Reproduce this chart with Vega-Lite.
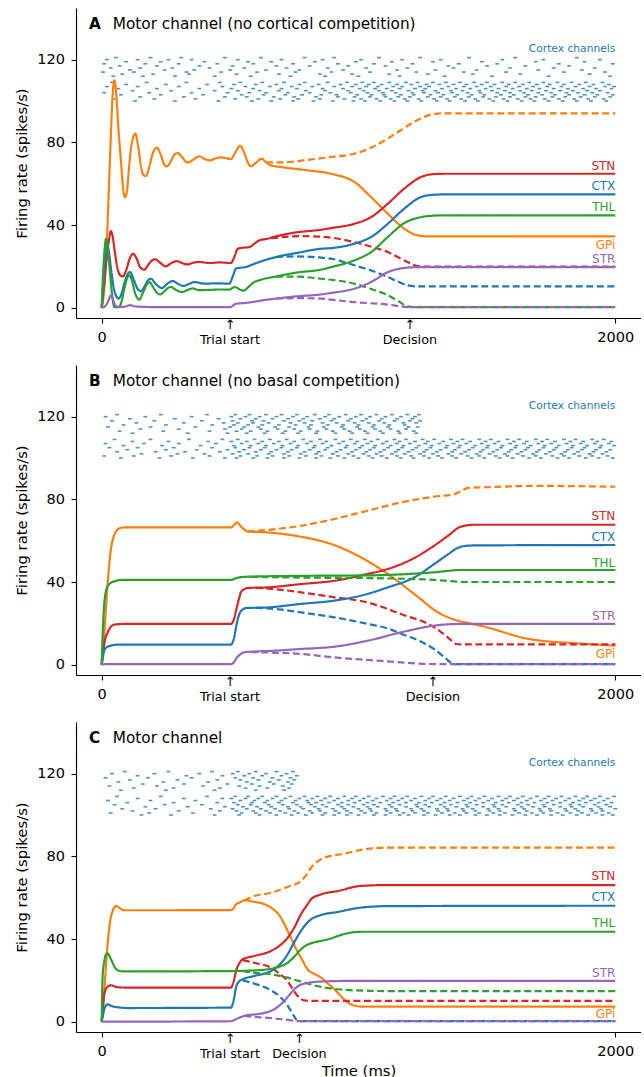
{
"$schema": "https://vega.github.io/schema/vega-lite/v6.json",
"padding": {"left": 14, "top": 8, "right": 0, "bottom": 0},
"config": {
 "font": "DejaVu Sans",
 "view": {"stroke": null},
 "axis": {"grid": false, "domainColor": "#000", "tickColor": "#000", "labelColor": "#000", "titleColor": "#000", "labelFontSize": 14.5, "titleFontSize": 14.8, "titleFontWeight": "normal", "tickSize": 5, "domainWidth": 1.1, "tickWidth": 1.1, "labelFlush": false},
 "axisX": {"labelPadding": 7, "titlePadding": 6},
 "axisY": {"labelPadding": 6.5, "titlePadding": 7.5}
},
"bounds": "flush",
"spacing": 47,
"datasets": {
"lA": [
{"s":"GPi","k":"solid","t":0,"v":0},{"s":"GPi","k":"solid","t":5,"v":3},{"s":"GPi","k":"solid","t":17,"v":23},{"s":"GPi","k":"solid","t":32,"v":71},{"s":"GPi","k":"solid","t":43,"v":103.5},{"s":"GPi","k":"solid","t":49,"v":110},{"s":"GPi","k":"solid","t":55,"v":106},{"s":"GPi","k":"solid","t":65,"v":87},{"s":"GPi","k":"solid","t":75,"v":71},{"s":"GPi","k":"solid","t":84,"v":57},{"s":"GPi","k":"solid","t":91,"v":53.5},{"s":"GPi","k":"solid","t":98,"v":56},{"s":"GPi","k":"solid","t":108,"v":70},{"s":"GPi","k":"solid","t":118,"v":80},{"s":"GPi","k":"solid","t":131,"v":84.2},{"s":"GPi","k":"solid","t":142,"v":78},{"s":"GPi","k":"solid","t":155,"v":67},{"s":"GPi","k":"solid","t":164,"v":64},{"s":"GPi","k":"solid","t":172,"v":63.7},{"s":"GPi","k":"solid","t":185,"v":68},{"s":"GPi","k":"solid","t":200,"v":75},{"s":"GPi","k":"solid","t":215,"v":77.4},{"s":"GPi","k":"solid","t":230,"v":74},{"s":"GPi","k":"solid","t":245,"v":69},{"s":"GPi","k":"solid","t":254,"v":68.4},{"s":"GPi","k":"solid","t":270,"v":71},{"s":"GPi","k":"solid","t":285,"v":74.3},{"s":"GPi","k":"solid","t":297,"v":74.8},{"s":"GPi","k":"solid","t":312,"v":73},{"s":"GPi","k":"solid","t":330,"v":70.5},{"s":"GPi","k":"solid","t":339,"v":70.3},{"s":"GPi","k":"solid","t":355,"v":71.5},{"s":"GPi","k":"solid","t":380,"v":73.2},{"s":"GPi","k":"solid","t":400,"v":72},{"s":"GPi","k":"solid","t":422,"v":71.3},{"s":"GPi","k":"solid","t":445,"v":72.3},{"s":"GPi","k":"solid","t":465,"v":72.7},{"s":"GPi","k":"solid","t":485,"v":72.3},{"s":"GPi","k":"solid","t":503,"v":71.9},{"s":"GPi","k":"solid","t":520,"v":75},{"s":"GPi","k":"solid","t":539,"v":78.4},{"s":"GPi","k":"solid","t":555,"v":75},{"s":"GPi","k":"solid","t":570,"v":70},{"s":"GPi","k":"solid","t":581,"v":68.4},{"s":"GPi","k":"solid","t":600,"v":70},{"s":"GPi","k":"solid","t":623,"v":72.1},{"s":"GPi","k":"solid","t":640,"v":70.3},{"s":"GPi","k":"solid","t":660,"v":68.8},{"s":"GPi","k":"solid","t":700,"v":68},{"s":"GPi","k":"solid","t":800,"v":66.5},{"s":"GPi","k":"solid","t":893,"v":64.8},{"s":"GPi","k":"solid","t":984,"v":60.8},{"s":"GPi","k":"solid","t":1049,"v":53.5},{"s":"GPi","k":"solid","t":1114,"v":45.5},{"s":"GPi","k":"solid","t":1178,"v":38.2},{"s":"GPi","k":"solid","t":1230,"v":35},{"s":"GPi","k":"solid","t":1270,"v":34.5},{"s":"GPi","k":"solid","t":2000,"v":34.5},
{"s":"GPi","k":"dashed","t":640,"v":70.3},{"s":"GPi","k":"dashed","t":700,"v":70.3},{"s":"GPi","k":"dashed","t":800,"v":71.5},{"s":"GPi","k":"dashed","t":893,"v":72.9},{"s":"GPi","k":"dashed","t":984,"v":74.5},{"s":"GPi","k":"dashed","t":1050,"v":77.5},{"s":"GPi","k":"dashed","t":1114,"v":81.8},{"s":"GPi","k":"dashed","t":1160,"v":85.5},{"s":"GPi","k":"dashed","t":1204,"v":89},{"s":"GPi","k":"dashed","t":1250,"v":92},{"s":"GPi","k":"dashed","t":1282,"v":93.4},{"s":"GPi","k":"dashed","t":1330,"v":94},{"s":"GPi","k":"dashed","t":2000,"v":94},
{"s":"STN","k":"solid","t":0,"v":0},{"s":"STN","k":"solid","t":10,"v":12},{"s":"STN","k":"solid","t":20,"v":25},{"s":"STN","k":"solid","t":30,"v":34},{"s":"STN","k":"solid","t":36,"v":37},{"s":"STN","k":"solid","t":42,"v":35},{"s":"STN","k":"solid","t":50,"v":28},{"s":"STN","k":"solid","t":60,"v":20},{"s":"STN","k":"solid","t":70,"v":16},{"s":"STN","k":"solid","t":82,"v":15.1},{"s":"STN","k":"solid","t":95,"v":18},{"s":"STN","k":"solid","t":110,"v":24},{"s":"STN","k":"solid","t":123,"v":26.1},{"s":"STN","k":"solid","t":135,"v":24},{"s":"STN","k":"solid","t":150,"v":19.5},{"s":"STN","k":"solid","t":166,"v":18.4},{"s":"STN","k":"solid","t":180,"v":20.5},{"s":"STN","k":"solid","t":195,"v":22.8},{"s":"STN","k":"solid","t":209,"v":23.4},{"s":"STN","k":"solid","t":225,"v":22},{"s":"STN","k":"solid","t":250,"v":20},{"s":"STN","k":"solid","t":270,"v":21.5},{"s":"STN","k":"solid","t":292,"v":22.5},{"s":"STN","k":"solid","t":315,"v":21.5},{"s":"STN","k":"solid","t":334,"v":20.9},{"s":"STN","k":"solid","t":355,"v":21.7},{"s":"STN","k":"solid","t":380,"v":22.1},{"s":"STN","k":"solid","t":420,"v":21.6},{"s":"STN","k":"solid","t":460,"v":21.9},{"s":"STN","k":"solid","t":503,"v":21.6},{"s":"STN","k":"solid","t":518,"v":25},{"s":"STN","k":"solid","t":530,"v":28.5},{"s":"STN","k":"solid","t":550,"v":29},{"s":"STN","k":"solid","t":575,"v":29.3},{"s":"STN","k":"solid","t":595,"v":31},{"s":"STN","k":"solid","t":614,"v":32.6},{"s":"STN","k":"solid","t":640,"v":33.2},{"s":"STN","k":"solid","t":679,"v":34.5},{"s":"STN","k":"solid","t":750,"v":36.3},{"s":"STN","k":"solid","t":854,"v":37.7},{"s":"STN","k":"solid","t":893,"v":38.5},{"s":"STN","k":"solid","t":984,"v":40.6},{"s":"STN","k":"solid","t":1049,"v":43.8},{"s":"STN","k":"solid","t":1114,"v":50.3},{"s":"STN","k":"solid","t":1178,"v":57.6},{"s":"STN","k":"solid","t":1243,"v":63.2},{"s":"STN","k":"solid","t":1290,"v":64.6},{"s":"STN","k":"solid","t":1340,"v":64.8},{"s":"STN","k":"solid","t":2000,"v":64.8},
{"s":"STN","k":"dashed","t":660,"v":33.6},{"s":"STN","k":"dashed","t":780,"v":34.6},{"s":"STN","k":"dashed","t":860,"v":34.3},{"s":"STN","k":"dashed","t":984,"v":31.7},{"s":"STN","k":"dashed","t":1050,"v":29.5},{"s":"STN","k":"dashed","t":1114,"v":26.9},{"s":"STN","k":"dashed","t":1160,"v":24},{"s":"STN","k":"dashed","t":1191,"v":22.1},{"s":"STN","k":"dashed","t":1230,"v":20.1},{"s":"STN","k":"dashed","t":1260,"v":19.9},{"s":"STN","k":"dashed","t":2000,"v":19.9},
{"s":"CTX","k":"solid","t":0,"v":0},{"s":"CTX","k":"solid","t":8,"v":15},{"s":"CTX","k":"solid","t":15,"v":27},{"s":"CTX","k":"solid","t":21,"v":31.3},{"s":"CTX","k":"solid","t":28,"v":27},{"s":"CTX","k":"solid","t":38,"v":17},{"s":"CTX","k":"solid","t":48,"v":9},{"s":"CTX","k":"solid","t":57,"v":5.5},{"s":"CTX","k":"solid","t":66,"v":4.4},{"s":"CTX","k":"solid","t":75,"v":6},{"s":"CTX","k":"solid","t":90,"v":12.5},{"s":"CTX","k":"solid","t":100,"v":16},{"s":"CTX","k":"solid","t":111,"v":17.2},{"s":"CTX","k":"solid","t":122,"v":14.5},{"s":"CTX","k":"solid","t":138,"v":9.5},{"s":"CTX","k":"solid","t":153,"v":8},{"s":"CTX","k":"solid","t":170,"v":11},{"s":"CTX","k":"solid","t":182,"v":13.5},{"s":"CTX","k":"solid","t":192,"v":14},{"s":"CTX","k":"solid","t":210,"v":11.5},{"s":"CTX","k":"solid","t":235,"v":9.5},{"s":"CTX","k":"solid","t":255,"v":11.5},{"s":"CTX","k":"solid","t":276,"v":12.9},{"s":"CTX","k":"solid","t":298,"v":11.5},{"s":"CTX","k":"solid","t":318,"v":10.5},{"s":"CTX","k":"solid","t":340,"v":11.5},{"s":"CTX","k":"solid","t":361,"v":12.4},{"s":"CTX","k":"solid","t":400,"v":11.6},{"s":"CTX","k":"solid","t":450,"v":11.8},{"s":"CTX","k":"solid","t":497,"v":11.6},{"s":"CTX","k":"solid","t":510,"v":15},{"s":"CTX","k":"solid","t":523,"v":18.9},{"s":"CTX","k":"solid","t":540,"v":19.3},{"s":"CTX","k":"solid","t":562,"v":19.7},{"s":"CTX","k":"solid","t":590,"v":21},{"s":"CTX","k":"solid","t":614,"v":22.1},{"s":"CTX","k":"solid","t":679,"v":24.5},{"s":"CTX","k":"solid","t":760,"v":26.5},{"s":"CTX","k":"solid","t":854,"v":28.5},{"s":"CTX","k":"solid","t":893,"v":28.8},{"s":"CTX","k":"solid","t":984,"v":31},{"s":"CTX","k":"solid","t":1049,"v":34.2},{"s":"CTX","k":"solid","t":1114,"v":40.6},{"s":"CTX","k":"solid","t":1178,"v":47.9},{"s":"CTX","k":"solid","t":1243,"v":53.5},{"s":"CTX","k":"solid","t":1290,"v":54.6},{"s":"CTX","k":"solid","t":1330,"v":54.8},{"s":"CTX","k":"solid","t":2000,"v":54.8},
{"s":"CTX","k":"dashed","t":679,"v":24.5},{"s":"CTX","k":"dashed","t":760,"v":24.8},{"s":"CTX","k":"dashed","t":854,"v":24.2},{"s":"CTX","k":"dashed","t":893,"v":23.7},{"s":"CTX","k":"dashed","t":984,"v":20.5},{"s":"CTX","k":"dashed","t":1050,"v":18},{"s":"CTX","k":"dashed","t":1114,"v":14.8},{"s":"CTX","k":"dashed","t":1160,"v":12.3},{"s":"CTX","k":"dashed","t":1191,"v":10.8},{"s":"CTX","k":"dashed","t":1230,"v":10.3},{"s":"CTX","k":"dashed","t":2000,"v":10.3},
{"s":"THL","k":"solid","t":0,"v":0},{"s":"THL","k":"solid","t":6,"v":18},{"s":"THL","k":"solid","t":12,"v":29},{"s":"THL","k":"solid","t":17,"v":33.4},{"s":"THL","k":"solid","t":22,"v":30},{"s":"THL","k":"solid","t":30,"v":20},{"s":"THL","k":"solid","t":40,"v":7},{"s":"THL","k":"solid","t":49,"v":0.3},{"s":"THL","k":"solid","t":66,"v":0.3},{"s":"THL","k":"solid","t":75,"v":2},{"s":"THL","k":"solid","t":88,"v":9},{"s":"THL","k":"solid","t":98,"v":14},{"s":"THL","k":"solid","t":108,"v":15.6},{"s":"THL","k":"solid","t":118,"v":13},{"s":"THL","k":"solid","t":130,"v":7},{"s":"THL","k":"solid","t":140,"v":4.5},{"s":"THL","k":"solid","t":147,"v":3.9},{"s":"THL","k":"solid","t":160,"v":7},{"s":"THL","k":"solid","t":175,"v":11},{"s":"THL","k":"solid","t":186,"v":12.4},{"s":"THL","k":"solid","t":200,"v":10},{"s":"THL","k":"solid","t":215,"v":7.2},{"s":"THL","k":"solid","t":227,"v":6.4},{"s":"THL","k":"solid","t":245,"v":8},{"s":"THL","k":"solid","t":260,"v":9.7},{"s":"THL","k":"solid","t":270,"v":10},{"s":"THL","k":"solid","t":290,"v":8.5},{"s":"THL","k":"solid","t":313,"v":7.6},{"s":"THL","k":"solid","t":335,"v":8.6},{"s":"THL","k":"solid","t":354,"v":9.3},{"s":"THL","k":"solid","t":380,"v":8.5},{"s":"THL","k":"solid","t":420,"v":8.6},{"s":"THL","k":"solid","t":460,"v":8.8},{"s":"THL","k":"solid","t":497,"v":8.7},{"s":"THL","k":"solid","t":510,"v":9.6},{"s":"THL","k":"solid","t":519,"v":10},{"s":"THL","k":"solid","t":535,"v":9},{"s":"THL","k":"solid","t":552,"v":8.2},{"s":"THL","k":"solid","t":570,"v":9.8},{"s":"THL","k":"solid","t":588,"v":11.9},{"s":"THL","k":"solid","t":620,"v":13.5},{"s":"THL","k":"solid","t":679,"v":15.1},{"s":"THL","k":"solid","t":760,"v":17},{"s":"THL","k":"solid","t":854,"v":18.4},{"s":"THL","k":"solid","t":893,"v":19.6},{"s":"THL","k":"solid","t":984,"v":22.9},{"s":"THL","k":"solid","t":1049,"v":26.9},{"s":"THL","k":"solid","t":1114,"v":34.2},{"s":"THL","k":"solid","t":1178,"v":40.9},{"s":"THL","k":"solid","t":1243,"v":43.8},{"s":"THL","k":"solid","t":1290,"v":44.5},{"s":"THL","k":"solid","t":1330,"v":44.7},{"s":"THL","k":"solid","t":2000,"v":44.7},
{"s":"THL","k":"dashed","t":679,"v":15},{"s":"THL","k":"dashed","t":760,"v":15},{"s":"THL","k":"dashed","t":854,"v":14},{"s":"THL","k":"dashed","t":893,"v":13.5},{"s":"THL","k":"dashed","t":984,"v":11.6},{"s":"THL","k":"dashed","t":1050,"v":9},{"s":"THL","k":"dashed","t":1114,"v":6},{"s":"THL","k":"dashed","t":1160,"v":2.8},{"s":"THL","k":"dashed","t":1191,"v":0.6},{"s":"THL","k":"dashed","t":1217,"v":0.3},{"s":"THL","k":"dashed","t":2000,"v":0.3},
{"s":"STR","k":"solid","t":0,"v":0},{"s":"STR","k":"solid","t":10,"v":0.3},{"s":"STR","k":"solid","t":25,"v":3},{"s":"STR","k":"solid","t":36,"v":6},{"s":"STR","k":"solid","t":45,"v":3.5},{"s":"STR","k":"solid","t":55,"v":0.8},{"s":"STR","k":"solid","t":70,"v":0.3},{"s":"STR","k":"solid","t":90,"v":0.5},{"s":"STR","k":"solid","t":110,"v":1.2},{"s":"STR","k":"solid","t":130,"v":0.6},{"s":"STR","k":"solid","t":200,"v":0.3},{"s":"STR","k":"solid","t":500,"v":0.3},{"s":"STR","k":"solid","t":523,"v":1.9},{"s":"STR","k":"solid","t":560,"v":2.3},{"s":"STR","k":"solid","t":600,"v":3},{"s":"STR","k":"solid","t":640,"v":3.8},{"s":"STR","k":"solid","t":679,"v":4.4},{"s":"STR","k":"solid","t":760,"v":5.5},{"s":"STR","k":"solid","t":854,"v":6.4},{"s":"STR","k":"solid","t":893,"v":7.1},{"s":"STR","k":"solid","t":984,"v":9.2},{"s":"STR","k":"solid","t":1049,"v":12.4},{"s":"STR","k":"solid","t":1114,"v":17.2},{"s":"STR","k":"solid","t":1178,"v":19.2},{"s":"STR","k":"solid","t":1230,"v":19.6},{"s":"STR","k":"solid","t":2000,"v":19.6},
{"s":"STR","k":"dashed","t":679,"v":4.4},{"s":"STR","k":"dashed","t":760,"v":4.6},{"s":"STR","k":"dashed","t":854,"v":4.4},{"s":"STR","k":"dashed","t":893,"v":3.9},{"s":"STR","k":"dashed","t":984,"v":2.7},{"s":"STR","k":"dashed","t":1114,"v":1.5},{"s":"STR","k":"dashed","t":1191,"v":0.3},{"s":"STR","k":"dashed","t":2000,"v":0.3}
],
"lB": [
{"s":"GPi","k":"solid","t":0,"v":0},{"s":"GPi","k":"solid","t":10,"v":15},{"s":"GPi","k":"solid","t":23,"v":39},{"s":"GPi","k":"solid","t":35,"v":55},{"s":"GPi","k":"solid","t":50,"v":63},{"s":"GPi","k":"solid","t":70,"v":66},{"s":"GPi","k":"solid","t":88,"v":66.4},{"s":"GPi","k":"solid","t":503,"v":66.4},{"s":"GPi","k":"solid","t":515,"v":67.5},{"s":"GPi","k":"solid","t":527,"v":68.8},{"s":"GPi","k":"solid","t":545,"v":66.5},{"s":"GPi","k":"solid","t":568,"v":64.5},{"s":"GPi","k":"solid","t":646,"v":64},{"s":"GPi","k":"solid","t":776,"v":61.9},{"s":"GPi","k":"solid","t":893,"v":58.4},{"s":"GPi","k":"solid","t":1010,"v":51.9},{"s":"GPi","k":"solid","t":1114,"v":43.9},{"s":"GPi","k":"solid","t":1217,"v":34.2},{"s":"GPi","k":"solid","t":1321,"v":24.5},{"s":"GPi","k":"solid","t":1373,"v":21.8},{"s":"GPi","k":"solid","t":1440,"v":19.8},{"s":"GPi","k":"solid","t":1503,"v":18},{"s":"GPi","k":"solid","t":1570,"v":15.5},{"s":"GPi","k":"solid","t":1633,"v":13.2},{"s":"GPi","k":"solid","t":1711,"v":11.6},{"s":"GPi","k":"solid","t":1827,"v":10.5},{"s":"GPi","k":"solid","t":2000,"v":9.2},
{"s":"GPi","k":"dashed","t":568,"v":64.5},{"s":"GPi","k":"dashed","t":646,"v":65.2},{"s":"GPi","k":"dashed","t":776,"v":67.2},{"s":"GPi","k":"dashed","t":906,"v":70.5},{"s":"GPi","k":"dashed","t":1036,"v":74.5},{"s":"GPi","k":"dashed","t":1165,"v":78.5},{"s":"GPi","k":"dashed","t":1295,"v":81.3},{"s":"GPi","k":"dashed","t":1373,"v":82.5},{"s":"GPi","k":"dashed","t":1400,"v":84},{"s":"GPi","k":"dashed","t":1425,"v":85.5},{"s":"GPi","k":"dashed","t":1503,"v":85.9},{"s":"GPi","k":"dashed","t":1698,"v":86.5},{"s":"GPi","k":"dashed","t":2000,"v":86.1},
{"s":"STN","k":"solid","t":0,"v":0},{"s":"STN","k":"solid","t":5,"v":5},{"s":"STN","k":"solid","t":10,"v":10},{"s":"STN","k":"solid","t":25,"v":16},{"s":"STN","k":"solid","t":49,"v":19.4},{"s":"STN","k":"solid","t":88,"v":19.7},{"s":"STN","k":"solid","t":503,"v":19.7},{"s":"STN","k":"solid","t":515,"v":22},{"s":"STN","k":"solid","t":523,"v":26.1},{"s":"STN","k":"solid","t":535,"v":32},{"s":"STN","k":"solid","t":542,"v":35},{"s":"STN","k":"solid","t":555,"v":36.5},{"s":"STN","k":"solid","t":568,"v":37.1},{"s":"STN","k":"solid","t":646,"v":37.4},{"s":"STN","k":"solid","t":776,"v":39},{"s":"STN","k":"solid","t":906,"v":40.6},{"s":"STN","k":"solid","t":1036,"v":43.9},{"s":"STN","k":"solid","t":1114,"v":46.3},{"s":"STN","k":"solid","t":1217,"v":51.6},{"s":"STN","k":"solid","t":1295,"v":57.6},{"s":"STN","k":"solid","t":1350,"v":62.5},{"s":"STN","k":"solid","t":1399,"v":66.8},{"s":"STN","k":"solid","t":1451,"v":67.7},{"s":"STN","k":"solid","t":2000,"v":67.7},
{"s":"STN","k":"dashed","t":600,"v":37.2},{"s":"STN","k":"dashed","t":700,"v":36.2},{"s":"STN","k":"dashed","t":776,"v":35},{"s":"STN","k":"dashed","t":906,"v":32.6},{"s":"STN","k":"dashed","t":1036,"v":30.1},{"s":"STN","k":"dashed","t":1165,"v":24.5},{"s":"STN","k":"dashed","t":1295,"v":18.1},{"s":"STN","k":"dashed","t":1350,"v":13},{"s":"STN","k":"dashed","t":1380,"v":10},{"s":"STN","k":"dashed","t":1400,"v":9.8},{"s":"STN","k":"dashed","t":2000,"v":9.8},
{"s":"CTX","k":"solid","t":0,"v":0},{"s":"CTX","k":"solid","t":5,"v":4},{"s":"CTX","k":"solid","t":10,"v":6.8},{"s":"CTX","k":"solid","t":20,"v":8.5},{"s":"CTX","k":"solid","t":36,"v":9.2},{"s":"CTX","k":"solid","t":60,"v":9.7},{"s":"CTX","k":"solid","t":503,"v":9.7},{"s":"CTX","k":"solid","t":516,"v":13.2},{"s":"CTX","k":"solid","t":526,"v":20},{"s":"CTX","k":"solid","t":536,"v":24.5},{"s":"CTX","k":"solid","t":550,"v":26.8},{"s":"CTX","k":"solid","t":562,"v":27.4},{"s":"CTX","k":"solid","t":646,"v":27.7},{"s":"CTX","k":"solid","t":776,"v":29.4},{"s":"CTX","k":"solid","t":906,"v":31},{"s":"CTX","k":"solid","t":1010,"v":33.4},{"s":"CTX","k":"solid","t":1114,"v":37.4},{"s":"CTX","k":"solid","t":1217,"v":42.2},{"s":"CTX","k":"solid","t":1295,"v":48.7},{"s":"CTX","k":"solid","t":1350,"v":53.5},{"s":"CTX","k":"solid","t":1386,"v":56.5},{"s":"CTX","k":"solid","t":1420,"v":57.5},{"s":"CTX","k":"solid","t":1451,"v":57.7},{"s":"CTX","k":"solid","t":2000,"v":57.9},
{"s":"CTX","k":"dashed","t":600,"v":27.5},{"s":"CTX","k":"dashed","t":700,"v":26.6},{"s":"CTX","k":"dashed","t":776,"v":25.3},{"s":"CTX","k":"dashed","t":906,"v":22.9},{"s":"CTX","k":"dashed","t":1036,"v":19.7},{"s":"CTX","k":"dashed","t":1114,"v":17.5},{"s":"CTX","k":"dashed","t":1165,"v":15},{"s":"CTX","k":"dashed","t":1243,"v":11.2},{"s":"CTX","k":"dashed","t":1295,"v":7.5},{"s":"CTX","k":"dashed","t":1340,"v":3},{"s":"CTX","k":"dashed","t":1370,"v":0.3},{"s":"CTX","k":"dashed","t":2000,"v":0.3},
{"s":"THL","k":"solid","t":0,"v":0},{"s":"THL","k":"solid","t":4,"v":15},{"s":"THL","k":"solid","t":10,"v":29.4},{"s":"THL","k":"solid","t":20,"v":37},{"s":"THL","k":"solid","t":30,"v":39},{"s":"THL","k":"solid","t":56,"v":40.6},{"s":"THL","k":"solid","t":80,"v":41},{"s":"THL","k":"solid","t":503,"v":41},{"s":"THL","k":"solid","t":520,"v":41.7},{"s":"THL","k":"solid","t":545,"v":42.4},{"s":"THL","k":"solid","t":581,"v":42.6},{"s":"THL","k":"solid","t":900,"v":43.1},{"s":"THL","k":"solid","t":1036,"v":43.2},{"s":"THL","k":"solid","t":1295,"v":44.7},{"s":"THL","k":"solid","t":1399,"v":45.8},{"s":"THL","k":"solid","t":2000,"v":45.8},
{"s":"THL","k":"dashed","t":581,"v":42.5},{"s":"THL","k":"dashed","t":900,"v":42},{"s":"THL","k":"dashed","t":1036,"v":41.9},{"s":"THL","k":"dashed","t":1295,"v":41},{"s":"THL","k":"dashed","t":1373,"v":40.3},{"s":"THL","k":"dashed","t":1420,"v":40},{"s":"THL","k":"dashed","t":2000,"v":40},
{"s":"STR","k":"solid","t":0,"v":0},{"s":"STR","k":"solid","t":20,"v":0.3},{"s":"STR","k":"solid","t":503,"v":0.3},{"s":"STR","k":"solid","t":515,"v":1.2},{"s":"STR","k":"solid","t":523,"v":2.8},{"s":"STR","k":"solid","t":540,"v":5},{"s":"STR","k":"solid","t":555,"v":6},{"s":"STR","k":"solid","t":581,"v":6.3},{"s":"STR","k":"solid","t":646,"v":6.6},{"s":"STR","k":"solid","t":776,"v":7.6},{"s":"STR","k":"solid","t":906,"v":8.7},{"s":"STR","k":"solid","t":1036,"v":11.6},{"s":"STR","k":"solid","t":1165,"v":15.6},{"s":"STR","k":"solid","t":1295,"v":18.9},{"s":"STR","k":"solid","t":1399,"v":19.7},{"s":"STR","k":"solid","t":2000,"v":19.7},
{"s":"STR","k":"dashed","t":581,"v":6.1},{"s":"STR","k":"dashed","t":646,"v":5.9},{"s":"STR","k":"dashed","t":776,"v":5.2},{"s":"STR","k":"dashed","t":906,"v":3.5},{"s":"STR","k":"dashed","t":1036,"v":2.3},{"s":"STR","k":"dashed","t":1165,"v":1.1},{"s":"STR","k":"dashed","t":1295,"v":0.3},{"s":"STR","k":"dashed","t":2000,"v":0.3}
],
"lC": [
{"s":"GPi","k":"solid","t":0,"v":0},{"s":"GPi","k":"solid","t":10,"v":15},{"s":"GPi","k":"solid","t":23,"v":37.4},{"s":"GPi","k":"solid","t":35,"v":50},{"s":"GPi","k":"solid","t":43,"v":53.6},{"s":"GPi","k":"solid","t":56,"v":56},{"s":"GPi","k":"solid","t":70,"v":55},{"s":"GPi","k":"solid","t":88,"v":53.9},{"s":"GPi","k":"solid","t":503,"v":54},{"s":"GPi","k":"solid","t":515,"v":55},{"s":"GPi","k":"solid","t":523,"v":56.8},{"s":"GPi","k":"solid","t":540,"v":57.8},{"s":"GPi","k":"solid","t":555,"v":58.7},{"s":"GPi","k":"solid","t":594,"v":58},{"s":"GPi","k":"solid","t":630,"v":57},{"s":"GPi","k":"solid","t":659,"v":55.2},{"s":"GPi","k":"solid","t":698,"v":50.3},{"s":"GPi","k":"solid","t":720,"v":45},{"s":"GPi","k":"solid","t":737,"v":40.6},{"s":"GPi","k":"solid","t":760,"v":34.5},{"s":"GPi","k":"solid","t":776,"v":31},{"s":"GPi","k":"solid","t":802,"v":25.3},{"s":"GPi","k":"solid","t":830,"v":23},{"s":"GPi","k":"solid","t":854,"v":21.3},{"s":"GPi","k":"solid","t":880,"v":18.5},{"s":"GPi","k":"solid","t":906,"v":15.7},{"s":"GPi","k":"solid","t":932,"v":12.3},{"s":"GPi","k":"solid","t":958,"v":9.2},{"s":"GPi","k":"solid","t":985,"v":7.8},{"s":"GPi","k":"solid","t":1010,"v":7.3},{"s":"GPi","k":"solid","t":2000,"v":7.3},
{"s":"GPi","k":"dashed","t":555,"v":58.7},{"s":"GPi","k":"dashed","t":594,"v":60.8},{"s":"GPi","k":"dashed","t":659,"v":62.4},{"s":"GPi","k":"dashed","t":724,"v":65.2},{"s":"GPi","k":"dashed","t":776,"v":68.1},{"s":"GPi","k":"dashed","t":800,"v":71.5},{"s":"GPi","k":"dashed","t":815,"v":74.5},{"s":"GPi","k":"dashed","t":835,"v":77},{"s":"GPi","k":"dashed","t":854,"v":78.6},{"s":"GPi","k":"dashed","t":890,"v":80.2},{"s":"GPi","k":"dashed","t":932,"v":81},{"s":"GPi","k":"dashed","t":1023,"v":83.4},{"s":"GPi","k":"dashed","t":1114,"v":84.2},{"s":"GPi","k":"dashed","t":2000,"v":84.2},
{"s":"STN","k":"solid","t":0,"v":0},{"s":"STN","k":"solid","t":5,"v":7},{"s":"STN","k":"solid","t":10,"v":13.3},{"s":"STN","k":"solid","t":20,"v":16.5},{"s":"STN","k":"solid","t":36,"v":17.6},{"s":"STN","k":"solid","t":60,"v":16.7},{"s":"STN","k":"solid","t":95,"v":16.5},{"s":"STN","k":"solid","t":503,"v":16.5},{"s":"STN","k":"solid","t":515,"v":20},{"s":"STN","k":"solid","t":523,"v":24.5},{"s":"STN","k":"solid","t":535,"v":28},{"s":"STN","k":"solid","t":549,"v":30.2},{"s":"STN","k":"solid","t":594,"v":31.8},{"s":"STN","k":"solid","t":659,"v":34.2},{"s":"STN","k":"solid","t":700,"v":37.5},{"s":"STN","k":"solid","t":724,"v":40.6},{"s":"STN","k":"solid","t":750,"v":45.5},{"s":"STN","k":"solid","t":776,"v":52},{"s":"STN","k":"solid","t":800,"v":56.5},{"s":"STN","k":"solid","t":815,"v":59.2},{"s":"STN","k":"solid","t":854,"v":61.6},{"s":"STN","k":"solid","t":919,"v":63.2},{"s":"STN","k":"solid","t":1010,"v":65.7},{"s":"STN","k":"solid","t":1114,"v":66.1},{"s":"STN","k":"solid","t":2000,"v":66.1},
{"s":"STN","k":"dashed","t":549,"v":29.8},{"s":"STN","k":"dashed","t":594,"v":28.5},{"s":"STN","k":"dashed","t":659,"v":26.1},{"s":"STN","k":"dashed","t":700,"v":22.5},{"s":"STN","k":"dashed","t":724,"v":19.7},{"s":"STN","k":"dashed","t":745,"v":15.5},{"s":"STN","k":"dashed","t":763,"v":12.4},{"s":"STN","k":"dashed","t":789,"v":10.3},{"s":"STN","k":"dashed","t":810,"v":10.1},{"s":"STN","k":"dashed","t":2000,"v":10.1},
{"s":"CTX","k":"solid","t":0,"v":0},{"s":"CTX","k":"solid","t":5,"v":3},{"s":"CTX","k":"solid","t":10,"v":6},{"s":"CTX","k":"solid","t":23,"v":8.4},{"s":"CTX","k":"solid","t":40,"v":7.5},{"s":"CTX","k":"solid","t":75,"v":6.8},{"s":"CTX","k":"solid","t":100,"v":6.6},{"s":"CTX","k":"solid","t":503,"v":6.8},{"s":"CTX","k":"solid","t":515,"v":11},{"s":"CTX","k":"solid","t":523,"v":16.5},{"s":"CTX","k":"solid","t":535,"v":19.5},{"s":"CTX","k":"solid","t":549,"v":20.5},{"s":"CTX","k":"solid","t":594,"v":22.1},{"s":"CTX","k":"solid","t":659,"v":24.5},{"s":"CTX","k":"solid","t":700,"v":28.5},{"s":"CTX","k":"solid","t":724,"v":32.6},{"s":"CTX","k":"solid","t":750,"v":38.5},{"s":"CTX","k":"solid","t":776,"v":43.9},{"s":"CTX","k":"solid","t":800,"v":47.8},{"s":"CTX","k":"solid","t":815,"v":49.5},{"s":"CTX","k":"solid","t":854,"v":51.6},{"s":"CTX","k":"solid","t":919,"v":53.1},{"s":"CTX","k":"solid","t":1010,"v":55.2},{"s":"CTX","k":"solid","t":1114,"v":55.9},{"s":"CTX","k":"solid","t":2000,"v":56.1},
{"s":"CTX","k":"dashed","t":549,"v":20},{"s":"CTX","k":"dashed","t":594,"v":18.4},{"s":"CTX","k":"dashed","t":659,"v":15.2},{"s":"CTX","k":"dashed","t":698,"v":11.6},{"s":"CTX","k":"dashed","t":720,"v":8.5},{"s":"CTX","k":"dashed","t":737,"v":5.2},{"s":"CTX","k":"dashed","t":755,"v":1.5},{"s":"CTX","k":"dashed","t":763,"v":0.3},{"s":"CTX","k":"dashed","t":2000,"v":0.3},
{"s":"THL","k":"solid","t":0,"v":0},{"s":"THL","k":"solid","t":4,"v":22.9},{"s":"THL","k":"solid","t":10,"v":29},{"s":"THL","k":"solid","t":17,"v":32.6},{"s":"THL","k":"solid","t":23,"v":33},{"s":"THL","k":"solid","t":36,"v":30.2},{"s":"THL","k":"solid","t":50,"v":26.5},{"s":"THL","k":"solid","t":62,"v":24.9},{"s":"THL","k":"solid","t":88,"v":24.3},{"s":"THL","k":"solid","t":503,"v":24.5},{"s":"THL","k":"solid","t":594,"v":24.8},{"s":"THL","k":"solid","t":659,"v":25.6},{"s":"THL","k":"solid","t":700,"v":27},{"s":"THL","k":"solid","t":724,"v":28.5},{"s":"THL","k":"solid","t":750,"v":31.5},{"s":"THL","k":"solid","t":776,"v":35},{"s":"THL","k":"solid","t":800,"v":37.2},{"s":"THL","k":"solid","t":815,"v":37.9},{"s":"THL","k":"solid","t":880,"v":39.8},{"s":"THL","k":"solid","t":958,"v":42.8},{"s":"THL","k":"solid","t":1010,"v":43.5},{"s":"THL","k":"solid","t":2000,"v":43.5},
{"s":"THL","k":"dashed","t":549,"v":24.4},{"s":"THL","k":"dashed","t":594,"v":23.7},{"s":"THL","k":"dashed","t":659,"v":22.9},{"s":"THL","k":"dashed","t":724,"v":21.3},{"s":"THL","k":"dashed","t":789,"v":18.9},{"s":"THL","k":"dashed","t":854,"v":16.8},{"s":"THL","k":"dashed","t":919,"v":15.7},{"s":"THL","k":"dashed","t":1049,"v":14.9},{"s":"THL","k":"dashed","t":1100,"v":14.8},{"s":"THL","k":"dashed","t":2000,"v":14.8},
{"s":"STR","k":"solid","t":0,"v":0},{"s":"STR","k":"solid","t":503,"v":0.2},{"s":"STR","k":"solid","t":523,"v":1.2},{"s":"STR","k":"solid","t":555,"v":2.8},{"s":"STR","k":"solid","t":620,"v":3.9},{"s":"STR","k":"solid","t":650,"v":4.8},{"s":"STR","k":"solid","t":672,"v":6},{"s":"STR","k":"solid","t":692,"v":7.8},{"s":"STR","k":"solid","t":711,"v":10},{"s":"STR","k":"solid","t":730,"v":12.8},{"s":"STR","k":"solid","t":750,"v":15.7},{"s":"STR","k":"solid","t":770,"v":17.6},{"s":"STR","k":"solid","t":789,"v":18.4},{"s":"STR","k":"solid","t":854,"v":19.4},{"s":"STR","k":"solid","t":950,"v":19.7},{"s":"STR","k":"solid","t":2000,"v":19.7},
{"s":"STR","k":"dashed","t":555,"v":2.8},{"s":"STR","k":"dashed","t":594,"v":2.3},{"s":"STR","k":"dashed","t":659,"v":1.7},{"s":"STR","k":"dashed","t":724,"v":0.9},{"s":"STR","k":"dashed","t":763,"v":0.3},{"s":"STR","k":"dashed","t":2000,"v":0.3}
],
"sA": [
{"t":55,"v":121},{"t":190,"v":121},{"t":310,"v":121},{"t":480,"v":121},{"t":620,"v":121},{"t":790,"v":121},{"t":905,"v":121},{"t":1080,"v":121},{"t":1240,"v":121},{"t":1430,"v":121},{"t":1610,"v":121},{"t":1850,"v":121},
{"t":20,"v":120},{"t":140,"v":120},{"t":260,"v":120},{"t":350,"v":120},{"t":530,"v":120},{"t":700,"v":120},{"t":860,"v":120},{"t":1010,"v":120},{"t":1170,"v":120},{"t":1320,"v":120},{"t":1560,"v":120},{"t":1720,"v":120},{"t":1940,"v":120},
{"t":95,"v":119},{"t":230,"v":119},{"t":400,"v":119},{"t":570,"v":119},{"t":660,"v":119},{"t":830,"v":119},{"t":990,"v":119},{"t":1130,"v":119},{"t":1290,"v":119},{"t":1480,"v":119},{"t":1690,"v":119},{"t":1880,"v":119},
{"t":10,"v":118},{"t":170,"v":118},{"t":300,"v":118},{"t":450,"v":118},{"t":590,"v":118},{"t":745,"v":118},{"t":920,"v":118},{"t":1060,"v":118},{"t":1210,"v":118},{"t":1390,"v":118},{"t":1540,"v":118},{"t":1780,"v":118},{"t":1990,"v":118},
{"t":70,"v":117},{"t":215,"v":117},{"t":380,"v":117},{"t":510,"v":117},{"t":680,"v":117},{"t":810,"v":117},{"t":960,"v":117},{"t":1105,"v":117},{"t":1350,"v":117},{"t":1500,"v":117},{"t":1650,"v":117},{"t":1820,"v":117},
{"t":35,"v":116},{"t":150,"v":116},{"t":275,"v":116},{"t":420,"v":116},{"t":555,"v":116},{"t":720,"v":116},{"t":880,"v":116},{"t":1030,"v":116},{"t":1190,"v":116},{"t":1370,"v":116},{"t":1590,"v":116},{"t":1760,"v":116},{"t":1920,"v":116},
{"t":110,"v":115},{"t":245,"v":115},{"t":360,"v":115},{"t":500,"v":115},{"t":640,"v":115},{"t":770,"v":115},{"t":940,"v":115},{"t":1150,"v":115},{"t":1300,"v":115},{"t":1460,"v":115},{"t":1700,"v":115},{"t":1870,"v":115},
{"t":5,"v":114},{"t":125,"v":114},{"t":330,"v":114},{"t":465,"v":114},{"t":605,"v":114},{"t":755,"v":114},{"t":895,"v":114},{"t":1045,"v":114},{"t":1225,"v":114},{"t":1410,"v":114},{"t":1575,"v":114},{"t":1800,"v":114},{"t":1960,"v":114},
{"t":80,"v":113},{"t":200,"v":113},{"t":340,"v":113},{"t":525,"v":113},{"t":690,"v":113},{"t":850,"v":113},{"t":975,"v":113},{"t":1120,"v":113},{"t":1270,"v":113},{"t":1445,"v":113},{"t":1630,"v":113},{"t":1900,"v":113},
{"t":45,"v":112},{"t":160,"v":112},{"t":285,"v":112},{"t":440,"v":112},{"t":580,"v":112},{"t":735,"v":112},{"t":870,"v":112},{"t":1000,"v":112},{"t":1160,"v":112},{"t":1335,"v":112},{"t":1520,"v":112},{"t":1740,"v":112},{"t":1980,"v":112},
{"t":40,"v":109},{"t":175,"v":109},{"t":330,"v":109},{"t":460,"v":109},{"t":540,"v":109},{"t":625,"v":109},{"t":710,"v":109},{"t":790,"v":109},{"t":880,"v":109},{"t":955,"v":109},{"t":1015,"v":109},{"t":1060,"v":109},{"t":1120,"v":109},{"t":1185,"v":109},{"t":1230,"v":109},{"t":1290,"v":109},{"t":1340,"v":109},{"t":1395,"v":109},{"t":1450,"v":109},{"t":1500,"v":109},{"t":1560,"v":109},{"t":1610,"v":109},{"t":1665,"v":109},{"t":1720,"v":109},{"t":1775,"v":109},{"t":1830,"v":109},{"t":1885,"v":109},{"t":1950,"v":109},
{"t":95,"v":108},{"t":250,"v":108},{"t":410,"v":108},{"t":515,"v":108},{"t":600,"v":108},{"t":680,"v":108},{"t":770,"v":108},{"t":845,"v":108},{"t":930,"v":108},{"t":990,"v":108},{"t":1040,"v":108},{"t":1090,"v":108},{"t":1150,"v":108},{"t":1205,"v":108},{"t":1265,"v":108},{"t":1315,"v":108},{"t":1370,"v":108},{"t":1420,"v":108},{"t":1480,"v":108},{"t":1530,"v":108},{"t":1585,"v":108},{"t":1640,"v":108},{"t":1695,"v":108},{"t":1745,"v":108},{"t":1800,"v":108},{"t":1860,"v":108},{"t":1915,"v":108},{"t":1975,"v":108},
{"t":20,"v":107},{"t":140,"v":107},{"t":300,"v":107},{"t":470,"v":107},{"t":560,"v":107},{"t":655,"v":107},{"t":740,"v":107},{"t":820,"v":107},{"t":905,"v":107},{"t":975,"v":107},{"t":1030,"v":107},{"t":1075,"v":107},{"t":1135,"v":107},{"t":1170,"v":107},{"t":1240,"v":107},{"t":1275,"v":107},{"t":1350,"v":107},{"t":1410,"v":107},{"t":1460,"v":107},{"t":1515,"v":107},{"t":1575,"v":107},{"t":1625,"v":107},{"t":1680,"v":107},{"t":1735,"v":107},{"t":1790,"v":107},{"t":1845,"v":107},{"t":1900,"v":107},{"t":1960,"v":107},{"t":1995,"v":107},
{"t":65,"v":106},{"t":215,"v":106},{"t":380,"v":106},{"t":505,"v":106},{"t":590,"v":106},{"t":700,"v":106},{"t":760,"v":106},{"t":860,"v":106},{"t":940,"v":106},{"t":1005,"v":106},{"t":1065,"v":106},{"t":1110,"v":106},{"t":1160,"v":106},{"t":1220,"v":106},{"t":1260,"v":106},{"t":1325,"v":106},{"t":1380,"v":106},{"t":1435,"v":106},{"t":1495,"v":106},{"t":1545,"v":106},{"t":1600,"v":106},{"t":1655,"v":106},{"t":1705,"v":106},{"t":1760,"v":106},{"t":1815,"v":106},{"t":1875,"v":106},{"t":1925,"v":106},{"t":1985,"v":106},
{"t":120,"v":105},{"t":270,"v":105},{"t":440,"v":105},{"t":530,"v":105},{"t":615,"v":105},{"t":690,"v":105},{"t":795,"v":105},{"t":870,"v":105},{"t":960,"v":105},{"t":1020,"v":105},{"t":1080,"v":105},{"t":1130,"v":105},{"t":1195,"v":105},{"t":1250,"v":105},{"t":1300,"v":105},{"t":1360,"v":105},{"t":1405,"v":105},{"t":1470,"v":105},{"t":1520,"v":105},{"t":1570,"v":105},{"t":1630,"v":105},{"t":1675,"v":105},{"t":1730,"v":105},{"t":1785,"v":105},{"t":1835,"v":105},{"t":1890,"v":105},{"t":1940,"v":105},
{"t":10,"v":104},{"t":185,"v":104},{"t":350,"v":104},{"t":490,"v":104},{"t":575,"v":104},{"t":640,"v":104},{"t":725,"v":104},{"t":810,"v":104},{"t":890,"v":104},{"t":970,"v":104},{"t":1035,"v":104},{"t":1095,"v":104},{"t":1145,"v":104},{"t":1210,"v":104},{"t":1255,"v":104},{"t":1310,"v":104},{"t":1365,"v":104},{"t":1425,"v":104},{"t":1475,"v":104},{"t":1540,"v":104},{"t":1590,"v":104},{"t":1645,"v":104},{"t":1700,"v":104},{"t":1750,"v":104},{"t":1810,"v":104},{"t":1855,"v":104},{"t":1910,"v":104},{"t":1970,"v":104},
{"t":75,"v":103},{"t":230,"v":103},{"t":395,"v":103},{"t":545,"v":103},{"t":630,"v":103},{"t":715,"v":103},{"t":780,"v":103},{"t":855,"v":103},{"t":915,"v":103},{"t":995,"v":103},{"t":1050,"v":103},{"t":1100,"v":103},{"t":1165,"v":103},{"t":1215,"v":103},{"t":1280,"v":103},{"t":1330,"v":103},{"t":1385,"v":103},{"t":1440,"v":103},{"t":1490,"v":103},{"t":1555,"v":103},{"t":1605,"v":103},{"t":1660,"v":103},{"t":1715,"v":103},{"t":1765,"v":103},{"t":1820,"v":103},{"t":1880,"v":103},{"t":1930,"v":103},{"t":1990,"v":103},
{"t":150,"v":102},{"t":320,"v":102},{"t":480,"v":102},{"t":565,"v":102},{"t":670,"v":102},{"t":750,"v":102},{"t":835,"v":102},{"t":920,"v":102},{"t":985,"v":102},{"t":1045,"v":102},{"t":1105,"v":102},{"t":1155,"v":102},{"t":1200,"v":102},{"t":1270,"v":102},{"t":1320,"v":102},{"t":1375,"v":102},{"t":1430,"v":102},{"t":1485,"v":102},{"t":1535,"v":102},{"t":1590,"v":102},{"t":1650,"v":102},{"t":1690,"v":102},{"t":1755,"v":102},{"t":1805,"v":102},{"t":1865,"v":102},{"t":1920,"v":102},{"t":1980,"v":102},
{"t":50,"v":101},{"t":205,"v":101},{"t":365,"v":101},{"t":520,"v":101},{"t":610,"v":101},{"t":695,"v":101},{"t":765,"v":101},{"t":850,"v":101},{"t":945,"v":101},{"t":1010,"v":101},{"t":1070,"v":101},{"t":1125,"v":101},{"t":1180,"v":101},{"t":1235,"v":101},{"t":1295,"v":101},{"t":1345,"v":101},{"t":1400,"v":101},{"t":1455,"v":101},{"t":1510,"v":101},{"t":1565,"v":101},{"t":1620,"v":101},{"t":1670,"v":101},{"t":1725,"v":101},{"t":1780,"v":101},{"t":1840,"v":101},{"t":1895,"v":101},{"t":1955,"v":101},
{"t":130,"v":100},{"t":285,"v":100},{"t":455,"v":100},{"t":585,"v":100},{"t":660,"v":100},{"t":745,"v":100},{"t":825,"v":100},{"t":900,"v":100},{"t":980,"v":100},{"t":1025,"v":100},{"t":1085,"v":100},{"t":1140,"v":100},{"t":1190,"v":100},{"t":1245,"v":100},{"t":1305,"v":100},{"t":1355,"v":100},{"t":1415,"v":100},{"t":1465,"v":100},{"t":1525,"v":100},{"t":1580,"v":100},{"t":1635,"v":100},{"t":1685,"v":100},{"t":1740,"v":100},{"t":1795,"v":100},{"t":1850,"v":100},{"t":1905,"v":100},{"t":1965,"v":100}
],
"sB": [
{"t":60,"v":121},{"t":230,"v":121},{"t":410,"v":121},{"t":520,"v":121},{"t":575,"v":121},{"t":640,"v":121},{"t":700,"v":121},{"t":760,"v":121},{"t":830,"v":121},{"t":885,"v":121},{"t":950,"v":121},{"t":1010,"v":121},{"t":1070,"v":121},{"t":1130,"v":121},{"t":1190,"v":121},{"t":1235,"v":121},
{"t":15,"v":120},{"t":170,"v":120},{"t":350,"v":120},{"t":505,"v":120},{"t":560,"v":120},{"t":615,"v":120},{"t":680,"v":120},{"t":745,"v":120},{"t":800,"v":120},{"t":870,"v":120},{"t":925,"v":120},{"t":990,"v":120},{"t":1045,"v":120},{"t":1105,"v":120},{"t":1165,"v":120},{"t":1220,"v":120},
{"t":110,"v":119},{"t":285,"v":119},{"t":455,"v":119},{"t":540,"v":119},{"t":600,"v":119},{"t":665,"v":119},{"t":725,"v":119},{"t":785,"v":119},{"t":850,"v":119},{"t":905,"v":119},{"t":970,"v":119},{"t":1030,"v":119},{"t":1090,"v":119},{"t":1150,"v":119},{"t":1210,"v":119},
{"t":40,"v":118},{"t":205,"v":118},{"t":390,"v":118},{"t":510,"v":118},{"t":585,"v":118},{"t":630,"v":118},{"t":710,"v":118},{"t":770,"v":118},{"t":820,"v":118},{"t":895,"v":118},{"t":960,"v":118},{"t":1015,"v":118},{"t":1080,"v":118},{"t":1140,"v":118},{"t":1200,"v":118},{"t":1240,"v":118},
{"t":135,"v":117},{"t":320,"v":117},{"t":475,"v":117},{"t":530,"v":117},{"t":590,"v":117},{"t":650,"v":117},{"t":735,"v":117},{"t":790,"v":117},{"t":860,"v":117},{"t":915,"v":117},{"t":985,"v":117},{"t":1040,"v":117},{"t":1100,"v":117},{"t":1175,"v":117},{"t":1225,"v":117},
{"t":85,"v":116},{"t":250,"v":116},{"t":430,"v":116},{"t":515,"v":116},{"t":570,"v":116},{"t":625,"v":116},{"t":690,"v":116},{"t":755,"v":116},{"t":815,"v":116},{"t":880,"v":116},{"t":940,"v":116},{"t":1000,"v":116},{"t":1060,"v":116},{"t":1120,"v":116},{"t":1180,"v":116},
{"t":25,"v":115},{"t":190,"v":115},{"t":365,"v":115},{"t":500,"v":115},{"t":555,"v":115},{"t":610,"v":115},{"t":675,"v":115},{"t":730,"v":115},{"t":805,"v":115},{"t":865,"v":115},{"t":935,"v":115},{"t":995,"v":115},{"t":1055,"v":115},{"t":1115,"v":115},{"t":1195,"v":115},{"t":1230,"v":115},
{"t":150,"v":114},{"t":300,"v":114},{"t":480,"v":114},{"t":545,"v":114},{"t":620,"v":114},{"t":685,"v":114},{"t":750,"v":114},{"t":810,"v":114},{"t":875,"v":114},{"t":945,"v":114},{"t":1005,"v":114},{"t":1065,"v":114},{"t":1125,"v":114},{"t":1185,"v":114},
{"t":70,"v":113},{"t":240,"v":113},{"t":420,"v":113},{"t":525,"v":113},{"t":580,"v":113},{"t":645,"v":113},{"t":715,"v":113},{"t":775,"v":113},{"t":840,"v":113},{"t":900,"v":113},{"t":965,"v":113},{"t":1025,"v":113},{"t":1085,"v":113},{"t":1155,"v":113},{"t":1215,"v":113},
{"t":120,"v":112},{"t":335,"v":112},{"t":490,"v":112},{"t":565,"v":112},{"t":635,"v":112},{"t":705,"v":112},{"t":765,"v":112},{"t":835,"v":112},{"t":910,"v":112},{"t":975,"v":112},{"t":1035,"v":112},{"t":1095,"v":112},{"t":1160,"v":112},{"t":1225,"v":112},
{"t":50,"v":109},{"t":190,"v":109},{"t":340,"v":109},{"t":470,"v":109},{"t":530,"v":109},{"t":595,"v":109},{"t":655,"v":109},{"t":720,"v":109},{"t":785,"v":109},{"t":850,"v":109},{"t":910,"v":109},{"t":970,"v":109},{"t":1025,"v":109},{"t":1075,"v":109},{"t":1140,"v":109},{"t":1185,"v":109},{"t":1250,"v":109},{"t":1295,"v":109},{"t":1360,"v":109},{"t":1405,"v":109},{"t":1470,"v":109},{"t":1515,"v":109},{"t":1580,"v":109},{"t":1625,"v":109},{"t":1690,"v":109},{"t":1735,"v":109},{"t":1800,"v":109},{"t":1845,"v":109},{"t":1910,"v":109},{"t":1955,"v":109},
{"t":120,"v":108},{"t":260,"v":108},{"t":415,"v":108},{"t":505,"v":108},{"t":565,"v":108},{"t":625,"v":108},{"t":690,"v":108},{"t":750,"v":108},{"t":815,"v":108},{"t":875,"v":108},{"t":940,"v":108},{"t":995,"v":108},{"t":1050,"v":108},{"t":1110,"v":108},{"t":1160,"v":108},{"t":1220,"v":108},{"t":1270,"v":108},{"t":1330,"v":108},{"t":1385,"v":108},{"t":1435,"v":108},{"t":1495,"v":108},{"t":1545,"v":108},{"t":1605,"v":108},{"t":1655,"v":108},{"t":1715,"v":108},{"t":1765,"v":108},{"t":1825,"v":108},{"t":1875,"v":108},{"t":1930,"v":108},{"t":1985,"v":108},
{"t":15,"v":107},{"t":165,"v":107},{"t":300,"v":107},{"t":445,"v":107},{"t":545,"v":107},{"t":610,"v":107},{"t":670,"v":107},{"t":735,"v":107},{"t":800,"v":107},{"t":860,"v":107},{"t":925,"v":107},{"t":985,"v":107},{"t":1035,"v":107},{"t":1095,"v":107},{"t":1150,"v":107},{"t":1200,"v":107},{"t":1260,"v":107},{"t":1315,"v":107},{"t":1370,"v":107},{"t":1420,"v":107},{"t":1480,"v":107},{"t":1530,"v":107},{"t":1590,"v":107},{"t":1645,"v":107},{"t":1700,"v":107},{"t":1750,"v":107},{"t":1810,"v":107},{"t":1865,"v":107},{"t":1920,"v":107},{"t":1975,"v":107},
{"t":85,"v":106},{"t":235,"v":106},{"t":385,"v":106},{"t":515,"v":106},{"t":580,"v":106},{"t":640,"v":106},{"t":705,"v":106},{"t":765,"v":106},{"t":830,"v":106},{"t":895,"v":106},{"t":955,"v":106},{"t":1015,"v":106},{"t":1065,"v":106},{"t":1125,"v":106},{"t":1175,"v":106},{"t":1235,"v":106},{"t":1285,"v":106},{"t":1345,"v":106},{"t":1395,"v":106},{"t":1455,"v":106},{"t":1505,"v":106},{"t":1560,"v":106},{"t":1615,"v":106},{"t":1670,"v":106},{"t":1725,"v":106},{"t":1780,"v":106},{"t":1835,"v":106},{"t":1890,"v":106},{"t":1945,"v":106},{"t":1995,"v":106},
{"t":30,"v":105},{"t":140,"v":105},{"t":280,"v":105},{"t":430,"v":105},{"t":520,"v":105},{"t":575,"v":105},{"t":635,"v":105},{"t":700,"v":105},{"t":760,"v":105},{"t":825,"v":105},{"t":880,"v":105},{"t":950,"v":105},{"t":1005,"v":105},{"t":1060,"v":105},{"t":1115,"v":105},{"t":1170,"v":105},{"t":1225,"v":105},{"t":1280,"v":105},{"t":1340,"v":105},{"t":1390,"v":105},{"t":1445,"v":105},{"t":1500,"v":105},{"t":1555,"v":105},{"t":1610,"v":105},{"t":1660,"v":105},{"t":1720,"v":105},{"t":1770,"v":105},{"t":1830,"v":105},{"t":1880,"v":105},{"t":1940,"v":105},
{"t":100,"v":104},{"t":250,"v":104},{"t":370,"v":104},{"t":490,"v":104},{"t":555,"v":104},{"t":620,"v":104},{"t":680,"v":104},{"t":740,"v":104},{"t":810,"v":104},{"t":870,"v":104},{"t":930,"v":104},{"t":990,"v":104},{"t":1045,"v":104},{"t":1100,"v":104},{"t":1155,"v":104},{"t":1210,"v":104},{"t":1265,"v":104},{"t":1320,"v":104},{"t":1375,"v":104},{"t":1430,"v":104},{"t":1485,"v":104},{"t":1540,"v":104},{"t":1595,"v":104},{"t":1650,"v":104},{"t":1705,"v":104},{"t":1760,"v":104},{"t":1815,"v":104},{"t":1870,"v":104},{"t":1925,"v":104},{"t":1980,"v":104},
{"t":60,"v":103},{"t":210,"v":103},{"t":325,"v":103},{"t":460,"v":103},{"t":535,"v":103},{"t":600,"v":103},{"t":660,"v":103},{"t":725,"v":103},{"t":790,"v":103},{"t":845,"v":103},{"t":915,"v":103},{"t":975,"v":103},{"t":1030,"v":103},{"t":1085,"v":103},{"t":1145,"v":103},{"t":1195,"v":103},{"t":1255,"v":103},{"t":1305,"v":103},{"t":1365,"v":103},{"t":1415,"v":103},{"t":1475,"v":103},{"t":1525,"v":103},{"t":1585,"v":103},{"t":1635,"v":103},{"t":1695,"v":103},{"t":1745,"v":103},{"t":1805,"v":103},{"t":1855,"v":103},{"t":1915,"v":103},{"t":1965,"v":103},
{"t":155,"v":102},{"t":295,"v":102},{"t":400,"v":102},{"t":510,"v":102},{"t":570,"v":102},{"t":650,"v":102},{"t":710,"v":102},{"t":775,"v":102},{"t":835,"v":102},{"t":900,"v":102},{"t":960,"v":102},{"t":1020,"v":102},{"t":1070,"v":102},{"t":1130,"v":102},{"t":1180,"v":102},{"t":1240,"v":102},{"t":1290,"v":102},{"t":1350,"v":102},{"t":1400,"v":102},{"t":1460,"v":102},{"t":1510,"v":102},{"t":1570,"v":102},{"t":1620,"v":102},{"t":1680,"v":102},{"t":1730,"v":102},{"t":1790,"v":102},{"t":1840,"v":102},{"t":1900,"v":102},{"t":1950,"v":102},
{"t":10,"v":101},{"t":125,"v":101},{"t":270,"v":101},{"t":420,"v":101},{"t":540,"v":101},{"t":605,"v":101},{"t":665,"v":101},{"t":730,"v":101},{"t":795,"v":101},{"t":855,"v":101},{"t":920,"v":101},{"t":980,"v":101},{"t":1040,"v":101},{"t":1090,"v":101},{"t":1150,"v":101},{"t":1205,"v":101},{"t":1255,"v":101},{"t":1310,"v":101},{"t":1365,"v":101},{"t":1425,"v":101},{"t":1470,"v":101},{"t":1535,"v":101},{"t":1580,"v":101},{"t":1640,"v":101},{"t":1690,"v":101},{"t":1755,"v":101},{"t":1800,"v":101},{"t":1860,"v":101},{"t":1910,"v":101},{"t":1970,"v":101},
{"t":75,"v":100},{"t":225,"v":100},{"t":355,"v":100},{"t":480,"v":100},{"t":525,"v":100},{"t":590,"v":100},{"t":645,"v":100},{"t":710,"v":100},{"t":770,"v":100},{"t":835,"v":100},{"t":890,"v":100},{"t":945,"v":100},{"t":1000,"v":100},{"t":1055,"v":100},{"t":1110,"v":100},{"t":1165,"v":100},{"t":1215,"v":100},{"t":1275,"v":100},{"t":1325,"v":100},{"t":1380,"v":100},{"t":1440,"v":100},{"t":1490,"v":100},{"t":1550,"v":100},{"t":1600,"v":100},{"t":1665,"v":100},{"t":1710,"v":100},{"t":1775,"v":100},{"t":1820,"v":100},{"t":1885,"v":100},{"t":1935,"v":100},{"t":1990,"v":100}
],
"sC": [
{"t":90,"v":121},{"t":260,"v":121},{"t":430,"v":121},{"t":530,"v":121},{"t":600,"v":121},{"t":680,"v":121},{"t":745,"v":121},
{"t":40,"v":120},{"t":205,"v":120},{"t":380,"v":120},{"t":510,"v":120},{"t":575,"v":120},{"t":640,"v":120},{"t":720,"v":120},
{"t":140,"v":119},{"t":330,"v":119},{"t":470,"v":119},{"t":555,"v":119},{"t":625,"v":119},{"t":700,"v":119},{"t":760,"v":119},
{"t":15,"v":118},{"t":180,"v":118},{"t":350,"v":118},{"t":520,"v":118},{"t":590,"v":118},{"t":665,"v":118},{"t":735,"v":118},
{"t":110,"v":117},{"t":295,"v":117},{"t":450,"v":117},{"t":540,"v":117},{"t":610,"v":117},{"t":690,"v":117},{"t":750,"v":117},
{"t":65,"v":116},{"t":240,"v":116},{"t":415,"v":116},{"t":565,"v":116},{"t":655,"v":116},{"t":725,"v":116},
{"t":160,"v":115},{"t":320,"v":115},{"t":490,"v":115},{"t":585,"v":115},{"t":670,"v":115},{"t":740,"v":115},
{"t":30,"v":114},{"t":215,"v":114},{"t":395,"v":114},{"t":535,"v":114},{"t":615,"v":114},{"t":705,"v":114},
{"t":125,"v":113},{"t":280,"v":113},{"t":460,"v":113},{"t":560,"v":113},{"t":645,"v":113},{"t":730,"v":113},
{"t":75,"v":112},{"t":250,"v":112},{"t":440,"v":112},{"t":600,"v":112},{"t":710,"v":112},
{"t":60,"v":109},{"t":230,"v":109},{"t":410,"v":109},{"t":520,"v":109},{"t":570,"v":109},{"t":625,"v":109},{"t":680,"v":109},{"t":735,"v":109},{"t":790,"v":109},{"t":840,"v":109},{"t":890,"v":109},{"t":945,"v":109},{"t":990,"v":109},{"t":1040,"v":109},{"t":1095,"v":109},{"t":1140,"v":109},{"t":1190,"v":109},{"t":1245,"v":109},{"t":1290,"v":109},{"t":1340,"v":109},{"t":1395,"v":109},{"t":1440,"v":109},{"t":1490,"v":109},{"t":1545,"v":109},{"t":1590,"v":109},{"t":1640,"v":109},{"t":1695,"v":109},{"t":1740,"v":109},{"t":1790,"v":109},{"t":1845,"v":109},{"t":1890,"v":109},{"t":1940,"v":109},{"t":1995,"v":109},
{"t":140,"v":108},{"t":320,"v":108},{"t":470,"v":108},{"t":505,"v":108},{"t":560,"v":108},{"t":610,"v":108},{"t":665,"v":108},{"t":715,"v":108},{"t":770,"v":108},{"t":820,"v":108},{"t":870,"v":108},{"t":920,"v":108},{"t":975,"v":108},{"t":1020,"v":108},{"t":1070,"v":108},{"t":1125,"v":108},{"t":1170,"v":108},{"t":1220,"v":108},{"t":1275,"v":108},{"t":1320,"v":108},{"t":1370,"v":108},{"t":1425,"v":108},{"t":1470,"v":108},{"t":1520,"v":108},{"t":1575,"v":108},{"t":1620,"v":108},{"t":1670,"v":108},{"t":1725,"v":108},{"t":1770,"v":108},{"t":1820,"v":108},{"t":1875,"v":108},{"t":1920,"v":108},{"t":1970,"v":108},
{"t":25,"v":107},{"t":190,"v":107},{"t":365,"v":107},{"t":540,"v":107},{"t":595,"v":107},{"t":645,"v":107},{"t":700,"v":107},{"t":755,"v":107},{"t":800,"v":107},{"t":855,"v":107},{"t":905,"v":107},{"t":960,"v":107},{"t":1005,"v":107},{"t":1055,"v":107},{"t":1110,"v":107},{"t":1155,"v":107},{"t":1205,"v":107},{"t":1260,"v":107},{"t":1305,"v":107},{"t":1355,"v":107},{"t":1410,"v":107},{"t":1455,"v":107},{"t":1505,"v":107},{"t":1560,"v":107},{"t":1605,"v":107},{"t":1655,"v":107},{"t":1710,"v":107},{"t":1755,"v":107},{"t":1805,"v":107},{"t":1860,"v":107},{"t":1905,"v":107},{"t":1955,"v":107},
{"t":100,"v":106},{"t":280,"v":106},{"t":450,"v":106},{"t":515,"v":106},{"t":585,"v":106},{"t":635,"v":106},{"t":690,"v":106},{"t":745,"v":106},{"t":805,"v":106},{"t":835,"v":106},{"t":885,"v":106},{"t":935,"v":106},{"t":985,"v":106},{"t":1035,"v":106},{"t":1085,"v":106},{"t":1135,"v":106},{"t":1185,"v":106},{"t":1235,"v":106},{"t":1285,"v":106},{"t":1335,"v":106},{"t":1385,"v":106},{"t":1435,"v":106},{"t":1485,"v":106},{"t":1535,"v":106},{"t":1585,"v":106},{"t":1635,"v":106},{"t":1685,"v":106},{"t":1735,"v":106},{"t":1785,"v":106},{"t":1835,"v":106},{"t":1885,"v":106},{"t":1935,"v":106},{"t":1985,"v":106},
{"t":50,"v":105},{"t":245,"v":105},{"t":390,"v":105},{"t":530,"v":105},{"t":580,"v":105},{"t":650,"v":105},{"t":705,"v":105},{"t":760,"v":105},{"t":815,"v":105},{"t":860,"v":105},{"t":920,"v":105},{"t":960,"v":105},{"t":1020,"v":105},{"t":1060,"v":105},{"t":1120,"v":105},{"t":1160,"v":105},{"t":1225,"v":105},{"t":1260,"v":105},{"t":1320,"v":105},{"t":1360,"v":105},{"t":1420,"v":105},{"t":1460,"v":105},{"t":1525,"v":105},{"t":1560,"v":105},{"t":1620,"v":105},{"t":1660,"v":105},{"t":1720,"v":105},{"t":1760,"v":105},{"t":1825,"v":105},{"t":1860,"v":105},{"t":1920,"v":105},{"t":1965,"v":105},
{"t":170,"v":104},{"t":335,"v":104},{"t":480,"v":104},{"t":550,"v":104},{"t":605,"v":104},{"t":660,"v":104},{"t":725,"v":104},{"t":775,"v":104},{"t":830,"v":104},{"t":875,"v":104},{"t":935,"v":104},{"t":980,"v":104},{"t":1035,"v":104},{"t":1075,"v":104},{"t":1130,"v":104},{"t":1185,"v":104},{"t":1230,"v":104},{"t":1275,"v":104},{"t":1335,"v":104},{"t":1380,"v":104},{"t":1425,"v":104},{"t":1485,"v":104},{"t":1530,"v":104},{"t":1575,"v":104},{"t":1635,"v":104},{"t":1680,"v":104},{"t":1725,"v":104},{"t":1785,"v":104},{"t":1830,"v":104},{"t":1875,"v":104},{"t":1935,"v":104},{"t":1980,"v":104},
{"t":80,"v":103},{"t":210,"v":103},{"t":425,"v":103},{"t":510,"v":103},{"t":565,"v":103},{"t":620,"v":103},{"t":675,"v":103},{"t":730,"v":103},{"t":785,"v":103},{"t":845,"v":103},{"t":900,"v":103},{"t":945,"v":103},{"t":1000,"v":103},{"t":1045,"v":103},{"t":1105,"v":103},{"t":1145,"v":103},{"t":1205,"v":103},{"t":1245,"v":103},{"t":1305,"v":103},{"t":1345,"v":103},{"t":1405,"v":103},{"t":1445,"v":103},{"t":1505,"v":103},{"t":1545,"v":103},{"t":1605,"v":103},{"t":1645,"v":103},{"t":1705,"v":103},{"t":1745,"v":103},{"t":1805,"v":103},{"t":1845,"v":103},{"t":1905,"v":103},{"t":1945,"v":103},{"t":2000,"v":103},
{"t":120,"v":102},{"t":300,"v":102},{"t":460,"v":102},{"t":525,"v":102},{"t":590,"v":102},{"t":640,"v":102},{"t":695,"v":102},{"t":750,"v":102},{"t":810,"v":102},{"t":850,"v":102},{"t":910,"v":102},{"t":955,"v":102},{"t":1010,"v":102},{"t":1050,"v":102},{"t":1110,"v":102},{"t":1150,"v":102},{"t":1210,"v":102},{"t":1255,"v":102},{"t":1310,"v":102},{"t":1350,"v":102},{"t":1410,"v":102},{"t":1455,"v":102},{"t":1510,"v":102},{"t":1550,"v":102},{"t":1610,"v":102},{"t":1655,"v":102},{"t":1710,"v":102},{"t":1750,"v":102},{"t":1810,"v":102},{"t":1855,"v":102},{"t":1910,"v":102},{"t":1950,"v":102},
{"t":35,"v":101},{"t":185,"v":101},{"t":355,"v":101},{"t":545,"v":101},{"t":600,"v":101},{"t":655,"v":101},{"t":715,"v":101},{"t":765,"v":101},{"t":820,"v":101},{"t":870,"v":101},{"t":925,"v":101},{"t":970,"v":101},{"t":1025,"v":101},{"t":1070,"v":101},{"t":1125,"v":101},{"t":1175,"v":101},{"t":1220,"v":101},{"t":1270,"v":101},{"t":1325,"v":101},{"t":1375,"v":101},{"t":1420,"v":101},{"t":1470,"v":101},{"t":1525,"v":101},{"t":1570,"v":101},{"t":1625,"v":101},{"t":1675,"v":101},{"t":1720,"v":101},{"t":1775,"v":101},{"t":1825,"v":101},{"t":1870,"v":101},{"t":1925,"v":101},{"t":1975,"v":101},
{"t":155,"v":100},{"t":270,"v":100},{"t":440,"v":100},{"t":535,"v":100},{"t":615,"v":100},{"t":680,"v":100},{"t":740,"v":100},{"t":795,"v":100},{"t":860,"v":100},{"t":905,"v":100},{"t":955,"v":100},{"t":1000,"v":100},{"t":1060,"v":100},{"t":1105,"v":100},{"t":1160,"v":100},{"t":1195,"v":100},{"t":1255,"v":100},{"t":1300,"v":100},{"t":1355,"v":100},{"t":1395,"v":100},{"t":1455,"v":100},{"t":1500,"v":100},{"t":1550,"v":100},{"t":1600,"v":100},{"t":1650,"v":100},{"t":1695,"v":100},{"t":1750,"v":100},{"t":1795,"v":100},{"t":1850,"v":100},{"t":1895,"v":100},{"t":1950,"v":100},{"t":1990,"v":100}
]
},
"vconcat": [
{
 "width": 565, "height": 310,
 "encoding": {
  "x": {"field": "t", "type": "quantitative", "scale": {"domain": [-100, 2100], "nice": false, "zero": false}, "axis": {"values": [0, 2000], "format": "d", "title": null}},
  "y": {"field": "v", "type": "quantitative", "scale": {"domain": [-5, 145], "nice": false, "zero": false}, "axis": {"values": [0, 40, 80, 120], "title": "Firing rate (spikes/s)"}}
 },
 "layer": [
  {"data": {"name": "sA"}, "mark": {"type": "tick", "orient": "horizontal", "size": 3.8, "thickness": 1.6, "color": "#1f77b4", "opacity": 0.8}},
  {"data": {"name": "lA"}, "mark": {"type": "line", "interpolate": "monotone", "strokeWidth": 2.2},
   "encoding": {"color": {"field": "s", "type": "nominal", "scale": {"domain": ["STN","CTX","THL","GPi","STR"], "range": ["#d62728","#1f77b4","#2ca02c","#ff7f0e","#9467bd"]}, "legend": null},
    "strokeDash": {"field": "k", "type": "nominal", "scale": {"domain": ["solid","dashed"], "range": [[1,0],[7,3.5]]}, "legend": null}, "detail": {"field": "k"}}},
  {"data": {"values": [{"t":2000,"v":66.8,"s":"STN"},{"t":2000,"v":56.7,"s":"CTX"},{"t":2000,"v":46.6,"s":"THL"},{"t":2000,"v":28.5,"s":"GPi"},{"t":2000,"v":21.6,"s":"STR"}]},
   "mark": {"type": "text", "align": "right", "baseline": "alphabetic", "fontSize": 12},
   "encoding": {"text": {"field": "s"}, "color": {"field": "s", "type": "nominal", "scale": {"domain": ["STN","CTX","THL","GPi","STR"], "range": ["#d62728","#1f77b4","#2ca02c","#ff7f0e","#9467bd"]}, "legend": null}}},
  {"data": {"values": [{"t":2000,"v":123.7,"txt":"Cortex channels"}]}, "mark": {"type": "text", "align": "right", "baseline": "alphabetic", "fontSize": 10.7, "color": "#1f77b4"}, "encoding": {"text": {"field": "txt"}}},
  {"data": {"values": [{"t":-49.5,"v":135,"txt":"A"}]}, "mark": {"type": "text", "align": "left", "baseline": "alphabetic", "fontSize": 15.3, "fontWeight": "bold", "color": "#000"}, "encoding": {"text": {"field": "txt"}}},
  {"data": {"values": [{"t":43,"v":135,"txt":"Motor channel (no cortical competition)"}]}, "mark": {"type": "text", "align": "left", "baseline": "alphabetic", "fontSize": 15.3, "color": "#000"}, "encoding": {"text": {"field": "txt"}}},
  {"data": {"values": [{"t":500,"v":-10.4,"txt":"↑"},{"t":1200,"v":-10.4,"txt":"↑"}]}, "mark": {"type": "text", "align": "center", "baseline": "alphabetic", "fontSize": 13, "color": "#000"}, "encoding": {"text": {"field": "txt"}}},
  {"data": {"values": [{"t":500,"v":-17.4,"txt":"Trial start"},{"t":1200,"v":-17.4,"txt":"Decision"}]}, "mark": {"type": "text", "align": "center", "baseline": "alphabetic", "fontSize": 12.8, "color": "#000"}, "encoding": {"text": {"field": "txt"}}}
 ]
},
{
 "width": 565, "height": 310,
 "encoding": {
  "x": {"field": "t", "type": "quantitative", "scale": {"domain": [-100, 2100], "nice": false, "zero": false}, "axis": {"values": [0, 2000], "format": "d", "title": null}},
  "y": {"field": "v", "type": "quantitative", "scale": {"domain": [-5, 145], "nice": false, "zero": false}, "axis": {"values": [0, 40, 80, 120], "title": "Firing rate (spikes/s)"}}
 },
 "layer": [
  {"data": {"name": "sB"}, "mark": {"type": "tick", "orient": "horizontal", "size": 3.8, "thickness": 1.6, "color": "#1f77b4", "opacity": 0.8}},
  {"data": {"name": "lB"}, "mark": {"type": "line", "interpolate": "monotone", "strokeWidth": 2.2},
   "encoding": {"color": {"field": "s", "type": "nominal", "scale": {"domain": ["STN","CTX","THL","GPi","STR"], "range": ["#d62728","#1f77b4","#2ca02c","#ff7f0e","#9467bd"]}, "legend": null},
    "strokeDash": {"field": "k", "type": "nominal", "scale": {"domain": ["solid","dashed"], "range": [[1,0],[7,3.5]]}, "legend": null}, "detail": {"field": "k"}}},
  {"data": {"values": [{"t":2000,"v":70,"s":"STN"},{"t":2000,"v":59.7,"s":"CTX"},{"t":2000,"v":47.4,"s":"THL"},{"t":2000,"v":3.4,"s":"GPi"},{"t":2000,"v":21.6,"s":"STR"}]},
   "mark": {"type": "text", "align": "right", "baseline": "alphabetic", "fontSize": 12},
   "encoding": {"text": {"field": "s"}, "color": {"field": "s", "type": "nominal", "scale": {"domain": ["STN","CTX","THL","GPi","STR"], "range": ["#d62728","#1f77b4","#2ca02c","#ff7f0e","#9467bd"]}, "legend": null}}},
  {"data": {"values": [{"t":2000,"v":123.7,"txt":"Cortex channels"}]}, "mark": {"type": "text", "align": "right", "baseline": "alphabetic", "fontSize": 10.7, "color": "#1f77b4"}, "encoding": {"text": {"field": "txt"}}},
  {"data": {"values": [{"t":-49.5,"v":135,"txt":"B"}]}, "mark": {"type": "text", "align": "left", "baseline": "alphabetic", "fontSize": 15.3, "fontWeight": "bold", "color": "#000"}, "encoding": {"text": {"field": "txt"}}},
  {"data": {"values": [{"t":43,"v":135,"txt":"Motor channel (no basal competition)"}]}, "mark": {"type": "text", "align": "left", "baseline": "alphabetic", "fontSize": 15.3, "color": "#000"}, "encoding": {"text": {"field": "txt"}}},
  {"data": {"values": [{"t":500,"v":-10.4,"txt":"↑"},{"t":1290,"v":-10.4,"txt":"↑"}]}, "mark": {"type": "text", "align": "center", "baseline": "alphabetic", "fontSize": 13, "color": "#000"}, "encoding": {"text": {"field": "txt"}}},
  {"data": {"values": [{"t":500,"v":-17.4,"txt":"Trial start"},{"t":1290,"v":-17.4,"txt":"Decision"}]}, "mark": {"type": "text", "align": "center", "baseline": "alphabetic", "fontSize": 12.8, "color": "#000"}, "encoding": {"text": {"field": "txt"}}}
 ]
},
{
 "width": 565, "height": 310,
 "encoding": {
  "x": {"field": "t", "type": "quantitative", "scale": {"domain": [-100, 2100], "nice": false, "zero": false}, "axis": {"values": [0, 2000], "format": "d", "title": "Time (ms)"}},
  "y": {"field": "v", "type": "quantitative", "scale": {"domain": [-5, 145], "nice": false, "zero": false}, "axis": {"values": [0, 40, 80, 120], "title": "Firing rate (spikes/s)"}}
 },
 "layer": [
  {"data": {"name": "sC"}, "mark": {"type": "tick", "orient": "horizontal", "size": 3.8, "thickness": 1.6, "color": "#1f77b4", "opacity": 0.8}},
  {"data": {"name": "lC"}, "mark": {"type": "line", "interpolate": "monotone", "strokeWidth": 2.2},
   "encoding": {"color": {"field": "s", "type": "nominal", "scale": {"domain": ["STN","CTX","THL","GPi","STR"], "range": ["#d62728","#1f77b4","#2ca02c","#ff7f0e","#9467bd"]}, "legend": null},
    "strokeDash": {"field": "k", "type": "nominal", "scale": {"domain": ["solid","dashed"], "range": [[1,0],[7,3.5]]}, "legend": null}, "detail": {"field": "k"}}},
  {"data": {"values": [{"t":2000,"v":68.4,"s":"STN"},{"t":2000,"v":58.2,"s":"CTX"},{"t":2000,"v":45.8,"s":"THL"},{"t":2000,"v":1.8,"s":"GPi"},{"t":2000,"v":21.6,"s":"STR"}]},
   "mark": {"type": "text", "align": "right", "baseline": "alphabetic", "fontSize": 12},
   "encoding": {"text": {"field": "s"}, "color": {"field": "s", "type": "nominal", "scale": {"domain": ["STN","CTX","THL","GPi","STR"], "range": ["#d62728","#1f77b4","#2ca02c","#ff7f0e","#9467bd"]}, "legend": null}}},
  {"data": {"values": [{"t":2000,"v":123.7,"txt":"Cortex channels"}]}, "mark": {"type": "text", "align": "right", "baseline": "alphabetic", "fontSize": 10.7, "color": "#1f77b4"}, "encoding": {"text": {"field": "txt"}}},
  {"data": {"values": [{"t":-49.5,"v":135,"txt":"C"}]}, "mark": {"type": "text", "align": "left", "baseline": "alphabetic", "fontSize": 15.3, "fontWeight": "bold", "color": "#000"}, "encoding": {"text": {"field": "txt"}}},
  {"data": {"values": [{"t":43,"v":135,"txt":"Motor channel"}]}, "mark": {"type": "text", "align": "left", "baseline": "alphabetic", "fontSize": 15.3, "color": "#000"}, "encoding": {"text": {"field": "txt"}}},
  {"data": {"values": [{"t":500,"v":-10.4,"txt":"↑"},{"t":770,"v":-10.4,"txt":"↑"}]}, "mark": {"type": "text", "align": "center", "baseline": "alphabetic", "fontSize": 13, "color": "#000"}, "encoding": {"text": {"field": "txt"}}},
  {"data": {"values": [{"t":500,"v":-17.4,"txt":"Trial start"},{"t":770,"v":-17.4,"txt":"Decision"}]}, "mark": {"type": "text", "align": "center", "baseline": "alphabetic", "fontSize": 12.8, "color": "#000"}, "encoding": {"text": {"field": "txt"}}}
 ]
}
]
}
